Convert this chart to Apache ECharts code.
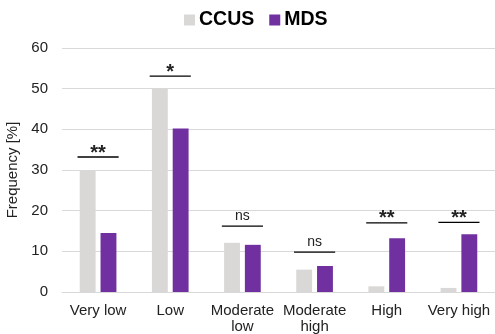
<!DOCTYPE html>
<html><head><meta charset="utf-8">
<script src="https://cdn.jsdelivr.net/npm/echarts@6/dist/echarts.min.js"></script>
<style>html,body{margin:0;padding:0;background:#fff}#c{width:495px;height:334px}</style>
</head><body><div id="c"></div>
<script>
var categories = ['Very low', 'Low', 'Moderate\nlow', 'Moderate\nhigh', 'High', 'Very high'];
var ccus = [30, 50, 12.1, 5.5, 1.4, 1.0];
var mds = [14.5, 40.2, 11.6, 6.4, 13.2, 14.2];
var sigLevels = [33.2, 53.1, 16.2, 9.8, 17.0, 17.1];
var sigLabels = ['**', '*', 'ns', 'ns', '**', '**'];
var yTicks = {min: 0, max: 60, interval: 10};

var sigData = categories.map(function (c, i) { return [i, sigLevels[i], sigLabels[i]]; });
var font = 'Liberation Sans, Arial, sans-serif';
var chart = echarts.init(document.getElementById('c'));
chart.setOption({
  animation: false,
  legend: {
    top: 5, left: 179, itemWidth: 11, itemHeight: 11, itemGap: 15,
    icon: 'rect',
    textStyle: {fontFamily: font, fontSize: 19.5, fontWeight: 'bold', color: '#000', padding: [0, 0, 0, -1]},
    data: ['CCUS', 'MDS']
  },
  grid: {left: 62, right: 0, top: 48, bottom: 42, containLabel: false, outerBoundsMode: 'none'},
  xAxis: {
    type: 'category', data: categories,
    axisLine: {lineStyle: {color: '#d9d9d9', width: 1}},
    axisTick: {show: false},
    axisLabel: {fontFamily: font, fontSize: 15, color: '#222', margin: 11, lineHeight: 16, interval: 0}
  },
  yAxis: {
    type: 'value', min: yTicks.min, max: yTicks.max, interval: yTicks.interval,
    name: 'Frequency [%]', nameLocation: 'middle', nameGap: 38, nameRotate: 90,
    nameTextStyle: {fontFamily: font, fontSize: 15, color: '#222'},
    axisLine: {show: false}, axisTick: {show: false},
    axisLabel: {fontFamily: font, fontSize: 15, color: '#222', margin: 14},
    splitLine: {lineStyle: {color: '#d9d9d9', width: 1}}
  },
  series: [
    {name: 'CCUS', type: 'bar', data: ccus, barWidth: '22%', barGap: '31%', itemStyle: {color: '#d9d8d6'}},
    {name: 'MDS', type: 'bar', data: mds, barWidth: '22%', itemStyle: {color: '#7030a0'}},
    {
      type: 'custom', data: sigData, z: 10, silent: true,
      renderItem: function (params, api) {
        var p = api.coord([api.value(0), api.value(1)]);
        var band = api.size([1, 0])[0];
        var half = band * 0.285;
        var lab = sigLabels[params.dataIndex];
        var isStar = lab.indexOf('*') >= 0;
        return {
          type: 'group',
          children: [
            {type: 'line', shape: {x1: p[0] - half, y1: p[1], x2: p[0] + half, y2: p[1]},
             style: {stroke: '#000', lineWidth: 1.3}},
            {type: 'text', x: p[0], y: isStar ? p[1] + 6 : p[1] - 3,
             style: {text: lab, fontFamily: font, fontSize: isStar ? 20 : 14,
                     fontWeight: isStar ? 'bold' : 'normal',
                     fill: '#222', align: 'center', verticalAlign: 'bottom'}}
          ]
        };
      }
    }
  ]
});
</script></body></html>
